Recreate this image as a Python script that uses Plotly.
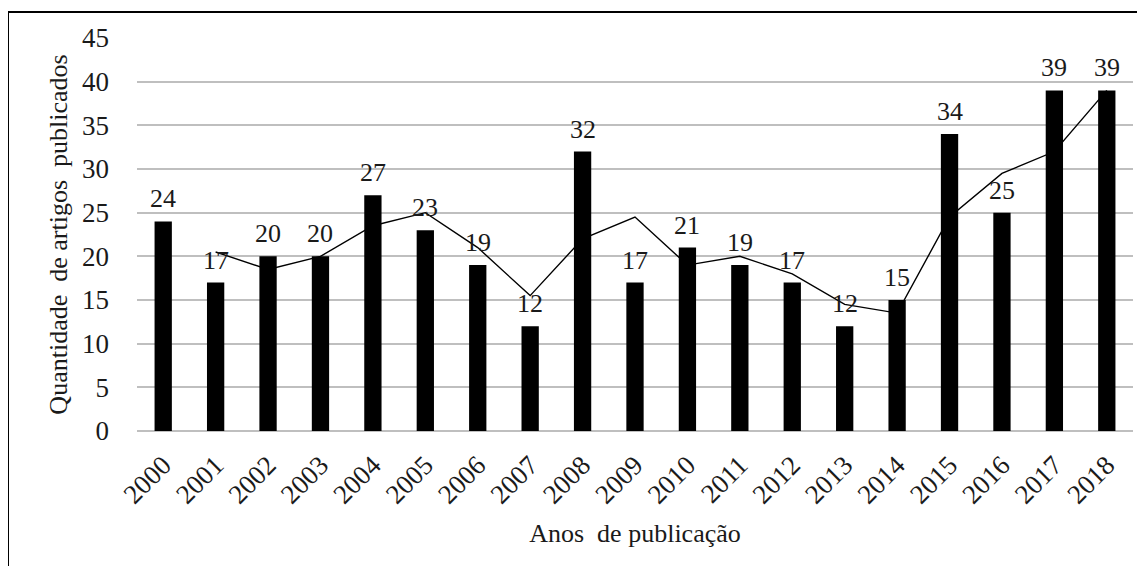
import plotly.graph_objects as go

anos = ["2000","2001","2002","2003","2004","2005","2006","2007","2008","2009",
        "2010","2011","2012","2013","2014","2015","2016","2017","2018"]
artigos = [24,17,20,20,27,23,19,12,32,17,21,19,17,12,15,34,25,39,39]
media_movel = [None,20.5,18.5,20,23.5,25,21,15.5,22,24.5,19,20,18,14.5,13.5,24.5,29.5,32,39]

FONT = "Liberation Serif, Times New Roman, serif"
TXT = "#1a1a1a"

# page body has an 8px margin; figure sized to fit the 1145x566 viewport
W, H = 1137, 558
L, R, T, B = 129, 12, 30, 135

fig = go.Figure()
fig.add_trace(go.Bar(
    x=anos, y=artigos, marker=dict(color="black", line=dict(width=0)),
    width=0.33, showlegend=False, hoverinfo="x+y"))
fig.add_trace(go.Scatter(
    x=anos, y=media_movel, mode="lines", line=dict(color="black", width=1.4),
    showlegend=False, connectgaps=False))

# value labels (category index positions)
for i, v in enumerate(artigos):
    fig.add_annotation(x=i, y=v, text=str(v), showarrow=False, yanchor="bottom",
                       yshift=6, font=dict(family=FONT, size=26, color=TXT))

fig.update_layout(
    width=W, height=H,
    margin=dict(l=L, r=R, t=T, b=B, autoexpand=False),
    paper_bgcolor="white", plot_bgcolor="white",
    font=dict(family=FONT, size=26, color=TXT),
    xaxis=dict(type="category", range=[-0.5, len(anos) - 0.5], tickangle=-45,
               showgrid=False, showline=False, zeroline=False, ticklabelstandoff=12,
               tickfont=dict(family=FONT, size=27, color=TXT), automargin=False,
               title=dict(text="Anos  de publicação", font=dict(family=FONT, size=26, color=TXT), standoff=15)),
    yaxis=dict(range=[0, 45], dtick=5, showgrid=True, gridcolor="#bfbfbf", gridwidth=1.5,
               zeroline=True, zerolinecolor="#bfbfbf", zerolinewidth=1.5, showline=False,
               tickfont=dict(family=FONT, size=27, color=TXT), ticklabelstandoff=27, automargin=False,
               title=dict(text="Quantidade  de artigos  publicados", font=dict(family=FONT, size=26, color=TXT), standoff=6)),
)
pw = W - L - R
ph = H - T - B
fig.add_shape(type="rect", xref="paper", yref="paper",
              x0=-L / pw, x1=1.2, y0=-0.6, y1=(H - B - 4) / ph,
              line=dict(color="black", width=2), fillcolor="rgba(0,0,0,0)", layer="below")
fig.write_html("out.html")
